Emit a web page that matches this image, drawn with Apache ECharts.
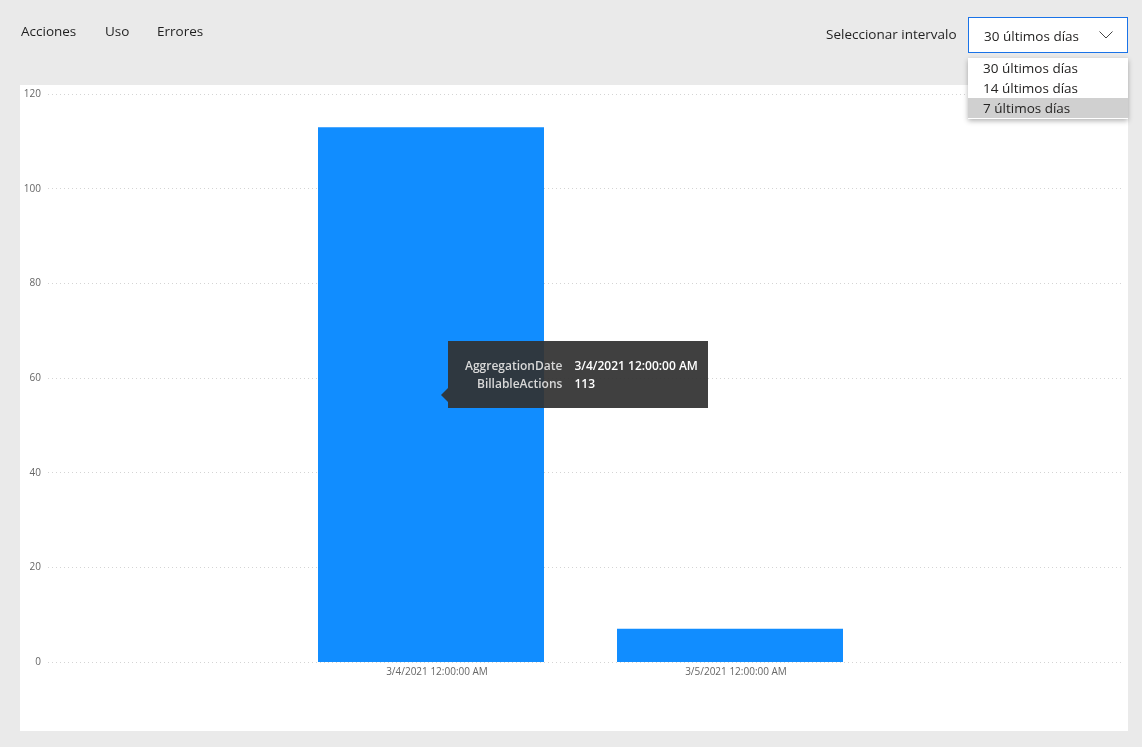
<!DOCTYPE html>
<html><head><meta charset="utf-8">
<script src="https://cdn.jsdelivr.net/npm/echarts@6/dist/echarts.min.js"></script>
<style>
html,body{margin:0;padding:0;width:1142px;height:747px;background:#eaeaea;overflow:hidden;font-family:"Open Sans","Noto Sans",sans-serif;color:#252423}
#panel{position:absolute;left:20px;top:85px;width:1108px;height:646px;background:#fff}
#chart{position:absolute;left:0;top:0;width:1142px;height:747px}
.tab{position:absolute;top:22px;font-size:13.5px;color:#1f1f1f}
#lbl{position:absolute;left:826px;top:25px;font-size:13.5px;color:#1f1f1f}
#dd{position:absolute;left:968px;top:17px;width:160px;height:36px;border:1px solid #1a73e8;background:#fff;box-sizing:border-box}
#dd span{position:absolute;left:15px;top:9px;font-size:13.5px}
#dd svg{position:absolute;right:14px;top:13px}
#list{position:absolute;left:968px;top:58px;width:160px;height:61px;background:#fff;box-shadow:0 2px 5px rgba(0,0,0,0.3)}
#list div{height:20px;line-height:20px;padding-left:15px;font-size:13.5px}
#list div.sel{background:#d0d0d0}
#tip{position:absolute;left:448px;top:341px;width:260px;height:67px;background:rgba(50,50,50,0.93);color:#fff;font-size:12px;font-weight:600}
#tip table{position:absolute;left:11px;top:16px;border-collapse:collapse}
#tip td{padding:0 6px;line-height:18px}
#tip td.k{text-align:right;color:#d8d8d8}
#arrow{position:absolute;left:441px;top:388px;width:0;height:0;border-top:7px solid transparent;border-bottom:7px solid transparent;border-right:7px solid rgba(50,50,50,0.93)}
</style></head>
<body>
<div id="panel"></div>
<div id="chart"></div>
<div class="tab" style="left:21px">Acciones</div>
<div class="tab" style="left:105px">Uso</div>
<div class="tab" style="left:157px">Errores</div>
<div id="lbl">Seleccionar intervalo</div>
<div id="dd"><span>30 últimos días</span><svg width="14" height="8" viewBox="0 0 14 8"><polyline points="0.5,0.5 7,7 13.5,0.5" fill="none" stroke="#444" stroke-width="1"/></svg></div>
<div id="list"></div>
<div id="arrow"></div>
<div id="tip"><table id="tiptab"></table></div>
<script>
const categories = ['3/4/2021 12:00:00 AM', '3/5/2021 12:00:00 AM'];
const billableActions = [113, 7];
const yTicks = [0, 20, 40, 60, 80, 100, 120];
const intervalOptions = ['30 últimos días', '14 últimos días', '7 últimos días'];
const tipFields = ['AggregationDate', 'BillableActions'];

const list = document.getElementById('list');
intervalOptions.forEach((o, i) => {
  const d = document.createElement('div');
  d.textContent = o;
  if (i === intervalOptions.length - 1) d.className = 'sel';
  list.appendChild(d);
});
document.getElementById('tiptab').innerHTML =
  '<tr><td class="k">' + tipFields[0] + '</td><td>' + categories[0] + '</td></tr>' +
  '<tr><td class="k">' + tipFields[1] + '</td><td>' + billableActions[0] + '</td></tr>';

const chart = echarts.init(document.getElementById('chart'));
chart.setOption({
  animation: false,
  grid: [
    {left: 48, right: 20, top: 94, bottom: 85},
    {left: 281.5, width: 598, top: 94, bottom: 85}
  ],
  xAxis: [
    {type: 'category', gridIndex: 0, data: [''], show: false},
    {type: 'category', gridIndex: 1, data: categories,
      axisLine: {show: false}, axisTick: {show: false},
      axisLabel: {fontSize: 10, color: '#666', margin: 5, padding: [0, 0, 0, 12], fontFamily: 'Open Sans'}}
  ],
  yAxis: [
    {type: 'value', gridIndex: 0, min: yTicks[0], max: yTicks[yTicks.length - 1], interval: 20,
      axisLine: {show: false}, axisTick: {show: false},
      axisLabel: {fontSize: 10, color: '#666', margin: 7, fontFamily: 'Open Sans'},
      splitLine: {lineStyle: {type: [1, 3], color: '#d4d4d4'}}},
    {type: 'value', gridIndex: 1, min: yTicks[0], max: yTicks[yTicks.length - 1], interval: 20, show: false,
      splitLine: {show: false}}
  ],
  series: [{
    type: 'bar', xAxisIndex: 1, yAxisIndex: 1, data: billableActions,
    barWidth: 226, itemStyle: {color: '#118DFF'}
  }]
});
</script>
</body></html>
